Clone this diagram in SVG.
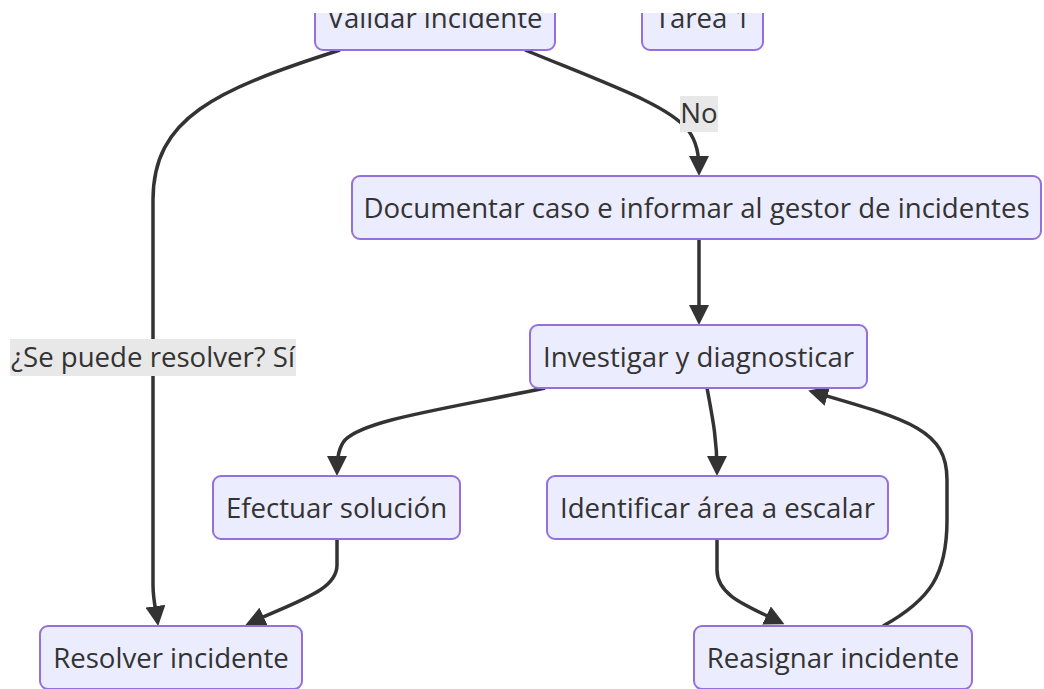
<svg xmlns="http://www.w3.org/2000/svg" width="1044" height="689" viewBox="0 0 1044 689">
<style>
.node rect{fill:#ECECFF;stroke:#9370DB;stroke-width:2}
.node text,.lbl text{font-family:"Open Sans","Noto Sans",sans-serif;font-size:27.6px;fill:#333;text-anchor:middle}
.lbl rect{fill:#e8e8e8}
.edge{fill:none;stroke:#333;stroke-width:3.5}
</style>
<defs>
<marker id="ah" viewBox="0 0 10 10" refX="7.5" refY="5" markerWidth="20" markerHeight="20" markerUnits="userSpaceOnUse" orient="auto">
<path d="M0,0 L10,5 L0,10 z" fill="#333"/>
</marker>
</defs>
<rect width="1044" height="689" fill="#fff"/>
<g id="connectors">
<path class="edge" d="M340,50 C215,90 153,118 153,200 L153,585 C153,600 156,610 157.5,621" marker-end="url(#ah)"/>
<path class="edge" d="M525,50 C610,85 668,105 688,130 C697,142 699,155 699,171" marker-end="url(#ah)"/>
<path class="edge" d="M699,239 L699,320" marker-end="url(#ah)"/>
<path class="edge" d="M545,388 C440,410 365,420 345,440 C338,448 337,460 337,471" marker-end="url(#ah)"/>
<path class="edge" d="M707,388 C713,420 717,440 717,471" marker-end="url(#ah)"/>
<path class="edge" d="M337,539 L337,565 C337,590 300,600 250,623" marker-end="url(#ah)"/>
<path class="edge" d="M717,539 L717,570 C717,595 745,605 780,622" marker-end="url(#ah)"/>
<path class="edge" d="M883,626 C930,600 947,575 947,520 L947,480 C947,430 910,420 813,392" marker-end="url(#ah)"/>
</g>
<g id="label-no" class="lbl"><rect x="680" y="96" width="38" height="36"/><text x="699" y="123">No</text></g>
<g id="label-si" class="lbl"><rect x="10" y="339" width="286" height="37"/><text x="153" y="367">¿Se puede resolver? Sí</text></g>
<g id="validar" class="node"><rect x="315" y="-13" width="240" height="63" rx="8"/><text x="435" y="28">Validar incidente</text></g>
<g id="tarea1" class="node"><rect x="642" y="-13" width="121" height="63" rx="8"/><text x="702.5" y="28">Tarea 1</text></g>
<g id="documentar" class="node"><rect x="352" y="176" width="689" height="63" rx="8"/><text x="696.5" y="217.5">Documentar caso e informar al gestor de incidentes</text></g>
<g id="investigar" class="node"><rect x="530" y="325" width="337" height="63" rx="8"/><text x="698.5" y="366.5">Investigar y diagnosticar</text></g>
<g id="efectuar" class="node"><rect x="213" y="476" width="247" height="63" rx="8"/><text x="336.5" y="517.5">Efectuar solución</text></g>
<g id="identificar" class="node"><rect x="547" y="476" width="341" height="63" rx="8"/><text x="717.5" y="517.5">Identificar área a escalar</text></g>
<g id="resolver" class="node"><rect x="40" y="626" width="262" height="63" rx="8"/><text x="171" y="667.5">Resolver incidente</text></g>
<g id="reasignar" class="node"><rect x="694" y="626" width="278" height="63" rx="8"/><text x="833" y="667.5">Reasignar incidente</text></g>
<rect id="top-crop" x="0" y="0" width="1044" height="13" fill="#fff"/>
</svg>
